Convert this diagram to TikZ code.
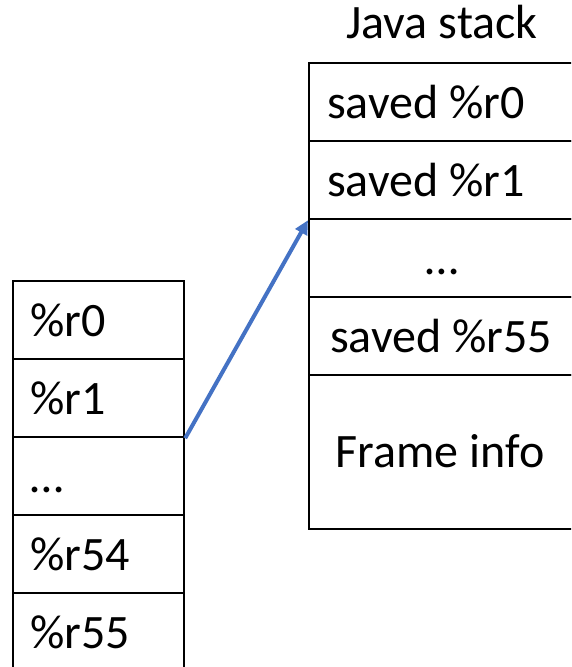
\documentclass[tikz,border=0pt]{standalone}
\usepackage{fontspec}
\setmainfont{Carlito}
\usetikzlibrary{arrows.meta}
\begin{document}
\begin{tikzpicture}[x=1pt,y=-1pt,
  cell/.style={draw=black,line width=2.2pt,minimum width=#1,inner sep=0pt,anchor=north west},
  lbl/.style={inner sep=0pt,font=\fontsize{48}{57}\selectfont},
  link/.style={draw={rgb,255:red,68;green,114;blue,196},line width=4pt,
    -{Triangle[length=14pt,width=13pt]}}]
\useasboundingbox (0,0) rectangle (571,667);
\clip (0,0) rectangle (571,667);
% register file (left column)
\node[cell=171pt,minimum height=78pt] (l0) at (12,280) {};
\node[cell=171pt,minimum height=78pt] (l1) at (12,358) {};
\node[cell=171pt,minimum height=78pt] (l2) at (12,436) {};
\node[cell=171pt,minimum height=78pt] (l3) at (12,514) {};
\node[cell=171pt,minimum height=78pt] (l4) at (12,592) {};
\node[lbl,anchor=base west] (t0) at (30,336) {\%r0};
\node[lbl,anchor=base west] (t1) at (30,414) {\%r1};
\node[lbl,anchor=base west] (t2) at (30,492) {\dots};
\node[lbl,anchor=base west] (t3) at (30,570) {\%r54};
\node[lbl,anchor=base west] (t4) at (30,648) {\%r55};
% Java stack (right column)
\node[lbl,anchor=base] (title) at (442,38) {Java stack};
\node[cell=266pt,minimum height=78pt] (r0) at (308,62) {};
\node[cell=266pt,minimum height=78pt] (r1) at (308,140) {};
\node[cell=266pt,minimum height=78pt] (r2) at (308,218) {};
\node[cell=266pt,minimum height=78pt] (r3) at (308,296) {};
\node[cell=266pt,minimum height=154pt] (r4) at (308,374) {};
\node[lbl,anchor=base west] (s0) at (327,118) {saved \%r0};
\node[lbl,anchor=base west] (s1) at (327,196) {saved \%r1};
\node[lbl,anchor=base] (s2) at (442,274) {\dots};
\node[lbl,anchor=base] (s3) at (441,352) {saved \%r55};
\node[lbl,anchor=base] (s4) at (440,467) {Frame info};
% registers are spilled into the stack frame
\draw[link] (l1.south east) -- (r1.south west);
\end{tikzpicture}
\end{document}
